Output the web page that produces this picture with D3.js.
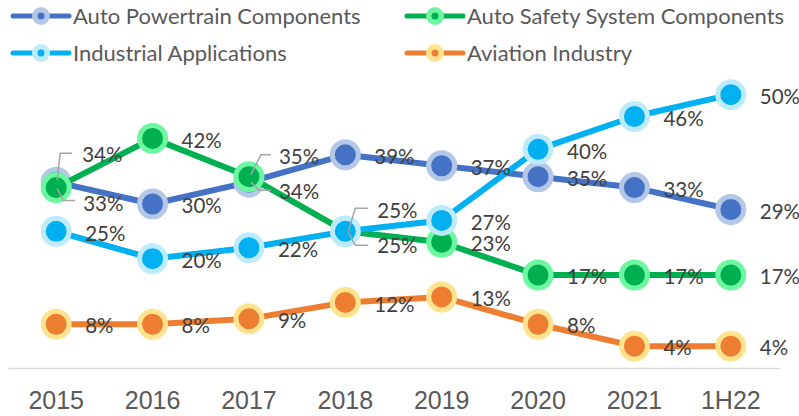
<!DOCTYPE html>
<html lang="en">
<head>
    <meta charset="UTF-8">
    <title>Revenue Mix by Segment | D3</title>
    <style>
        body { margin: 0; background: #fff; }
    </style>
</head>
<body>
    <div class="graph-container"></div>

    <script type="text/javascript" src="https://d3js.org/d3.v7.min.js"></script>
    <script type="text/javascript">
        var categories = ["2015", "2016", "2017", "2018", "2019", "2020", "2021", "1H22"];

        var powertrain = [34, 30, 34, 39, 37, 35, 33, 29];
        var safety = [33, 42, 35, 25, 23, 17, 17, 17];
        var industrial = [25, 20, 22, 25, 27, 40, 46, 50];
        var aviation = [8, 8, 9, 12, 13, 8, 4, 4];

        var seriesNames = ["Auto Powertrain Components", "Auto Safety System Components",
            "Industrial Applications", "Aviation Industry"];

        var canvasWidth = 799;
        var canvasHeight = 416;

        var series = [
            { key: "pt", name: seriesNames[0], values: powertrain, line: "#4472C4", halo: "#B4C7E7" },
            { key: "sf", name: seriesNames[1], values: safety, line: "#00B050", halo: "#6CF7A0" },
            { key: "in", name: seriesNames[2], values: industrial, line: "#00B0F0", halo: "#BDEBFB" },
            { key: "av", name: seriesNames[3], values: aviation, line: "#ED7D31", halo: "#FFE38F" }
        ];

        // labels that Excel pulled away from their point, with a leader line
        // offsets are relative to the point: [dx, dy] of label and leader path points
        var moved = {
            "pt-0": { dx: 26, dy: -27, leader: [[16, -29], [4, -29], [1, -2]] },
            "sf-0": { dx: 27, dy: 16, leader: [[1, 1], [7, 13], [19, 13]] },
            "pt-2": { dx: 30, dy: 10, leader: [[2, 0], [10, 8], [22, 8]] },
            "sf-2": { dx: 30, dy: -20, leader: [[22, -22], [12, -22], [2, -2]] },
            "in-3": { dx: 32, dy: -21, leader: [[23, -23], [10, -23], [3, 0]] },
            "sf-3": { dx: 32, dy: 14, leader: [[3, 1], [10, 14], [23, 14]] }
        };

        var svg = d3.select(".graph-container")
            .append("svg")
            .attr("width", canvasWidth)
            .attr("height", canvasHeight);

        var x = d3.scaleBand()
            .domain(categories)
            .range([8, 779]);

        var y = d3.scaleLinear()
            .domain([0, 60])
            .range([368, 40]);

        function cx(c) { return x(c) + x.bandwidth() / 2; }

        // category axis
        var xAxis = d3.axisBottom(x).tickSize(0).tickPadding(23);
        var axisG = svg.append("g")
            .attr("transform", "translate(0," + y(0) + ")")
            .call(xAxis);
        axisG.select(".domain").attr("stroke", "#D9D9D9").attr("stroke-width", 1.3);
        axisG.selectAll("text")
            .attr("fill", "#595959")
            .style("font-family", "'Liberation Sans', Arial, sans-serif")
            .style("font-size", "25px");

        var line = d3.line()
            .x(function(d, i) { return cx(categories[i]); })
            .y(function(d) { return y(d); });

        // series lines and markers, in series order
        series.forEach(function(s) {
            var g = svg.append("g").attr("class", "series-" + s.key);
            g.append("path")
                .datum(s.values)
                .attr("d", line)
                .attr("fill", "none")
                .attr("stroke", s.line)
                .attr("stroke-width", 6)
                .attr("stroke-linejoin", "round");
            g.selectAll("circle")
                .data(s.values)
                .enter()
                .append("circle")
                .attr("cx", function(d, i) { return cx(categories[i]); })
                .attr("cy", function(d) { return y(d); })
                .attr("r", 13)
                .attr("fill", s.line)
                .attr("stroke", s.halo)
                .attr("stroke-width", 5);
        });

        // data labels
        var labels = svg.append("g").attr("class", "labels");
        series.forEach(function(s) {
            s.values.forEach(function(v, i) {
                var px = cx(categories[i]);
                var py = y(v);
                var m = moved[s.key + "-" + i];
                var dx = m ? m.dx : 29;
                var dy = m ? m.dy : 2;
                if (m) {
                    labels.append("path")
                        .attr("d", d3.line()(m.leader.map(function(p) { return [px + p[0], py + p[1]]; })))
                        .attr("fill", "none")
                        .attr("stroke", "#A6A6A6")
                        .attr("stroke-width", 1.5);
                }
                labels.append("text")
                    .attr("x", px + dx)
                    .attr("y", py + dy)
                    .attr("dy", "0.35em")
                    .attr("fill", "#404040")
                    .style("font-family", "Lato, 'Open Sans', sans-serif")
                    .style("font-size", "20.5px")
                    .text(v + "%");
            });
        });

        // legend: two rows, two columns
        var legend = svg.append("g").attr("class", "legend");
        var legendPos = [[13, 16], [407, 16], [13, 53], [407, 53]];
        series.forEach(function(s, i) {
            var lg = legend.append("g")
                .attr("transform", "translate(" + legendPos[i][0] + "," + legendPos[i][1] + ")");
            lg.append("line")
                .attr("x1", 0).attr("x2", 56)
                .attr("stroke", s.line)
                .attr("stroke-width", 5)
                .attr("stroke-linecap", "round");
            lg.append("circle").attr("cx", 28).attr("r", 9).attr("fill", s.halo);
            lg.append("circle").attr("cx", 28).attr("r", 3.5).attr("fill", s.line);
            lg.append("text")
                .attr("x", 60)
                .attr("dy", "0.35em")
                .attr("fill", "#595959")
                .style("font-family", "Lato, 'Open Sans', sans-serif")
                .style("font-size", "22px")
                .text(s.name);
        });
    </script>
</body>
</html>
